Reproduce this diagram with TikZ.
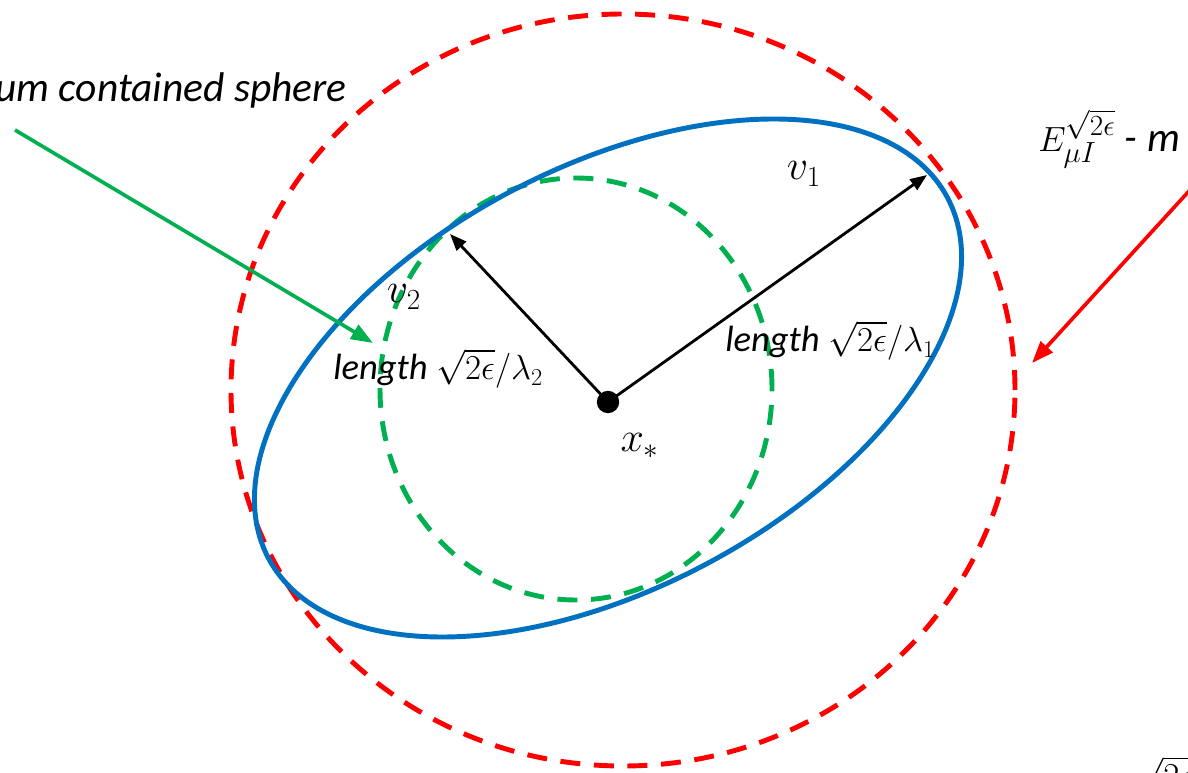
\documentclass[tikz,border=0pt]{standalone}
\usepackage{fontspec}
\setmainfont{Carlito}
\usetikzlibrary{arrows.meta}
\definecolor{ellblue}{HTML}{0070C0}
\definecolor{ballgreen}{HTML}{00B050}
\begin{document}
\begin{tikzpicture}[x=1cm,y=1cm,>={Triangle[length=0.42cm,width=0.32cm]},
  every node/.style={font=\fontsize{26}{31}\selectfont\itshape,inner sep=0pt},
  big/.style={font=\fontsize{29.5}{34}\selectfont\itshape},
  sym/.style={scale=1.2},
  ring/.style={line width=3.5pt,dash pattern=on 0.5cm off 0.34cm},
  pointer/.style={->,line width=2.6pt,>={Triangle[length=0.55cm,width=0.4cm]}}]
\clip (0,0) rectangle (29.7,19.3);

% outer sphere and inner sphere
\draw[ring,red] (15.575,9.55) ellipse [x radius=9.8,y radius=9.4];
\draw[ring,ballgreen] (14.4,9.575) ellipse [x radius=4.9,y radius=5.275];
% level set
\draw[ellblue,line width=3.5pt] (15.2,9.85) ellipse [x radius=9.61,y radius=5.26,rotate=28];

\node[circle,fill,minimum size=0.56cm] (xs) at (15.2,9.25) {};
\node[sym] (xlab) at (16.0,8.15) {$x_*$};

\coordinate (v1tip) at (23.175,14.925);
\coordinate (v2tip) at (11.25,13.45);
\draw[->,line width=2pt] (xs.center) -- (v1tip);
\draw[->,line width=2pt] (xs.center) -- (v2tip);
\node[sym] (v1) at (20.1,14.95) {$v_1$};
\node[sym] (v2) at (10.1,11.875) {$v_2$};
\node[anchor=base west] (len1) at (18.125,10.5) {length $\sqrt{2\epsilon}/\lambda_1$};
\node[anchor=base west] (len2) at (8.325,9.8) {length $\sqrt{2\epsilon}/\lambda_2$};

% labels at the edges
\node[big,anchor=base east] (inlab) at (8.675,16.75) {um contained sphere};
\coordinate (gs) at (0.375,16.05);
\coordinate (gt) at (9.325,10.725);
\draw[pointer,ballgreen] (gs) -- (gt);

\node[big,anchor=base west] (outlab) at (25.95,15.5) {$E_{\mu I}^{\sqrt{2\epsilon}}$ - m};
\coordinate (rs) at (30,14.825);
\coordinate (rt) at (25.8,10.225);
\draw[pointer,red] (rs) -- (rt);

\node[big,anchor=north west] (sqlab) at (28.35,0.4) {$\sqrt{2\epsilon}$};
\end{tikzpicture}
\end{document}
